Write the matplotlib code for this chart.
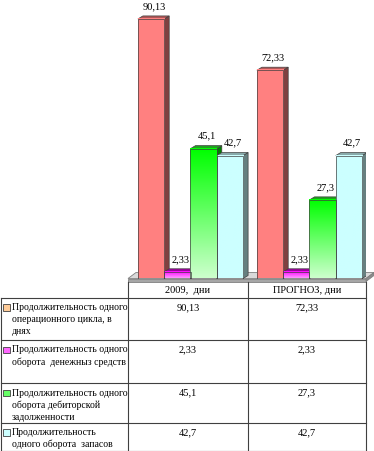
import numpy as np
import matplotlib
matplotlib.use('Agg')
import matplotlib.pyplot as plt
from matplotlib.patches import Polygon, Rectangle
from matplotlib.colors import LinearSegmentedColormap

# ---------------- data ----------------
categories = ['2009,  дни', 'ПРОГНОЗ, дни']
series_labels = [
    ['Продолжительность одного', 'операционного цикла, в', 'днях'],
    ['Продолжительность одного', 'оборота  денежныз средств'],
    ['Продолжительность одного', 'оборота дебиторской', 'задолженности'],
    ['Продолжительность', 'одного оборота  запасов'],
]
cycle_days = [90.13, 72.33]
cash_days = [2.33, 2.33]
receivables_days = [45.1, 27.3]
inventory_days = [42.7, 42.7]
series_values = [cycle_days, cash_days, receivables_days, inventory_days]

# ---------------- style ----------------
W, H, DPI = 374, 451, 100
FONT = 'Liberation Serif'
FS = 7.5
FS_LEFT = 7.0
front_top = ['#FF8080', '#FF00FF', '#00FF00', '#CCFFFF']
front_bot = ['#FF8080', '#FF99FF', '#CCFFCC', '#CCFFFF']
side_col = ['#804040', '#800080', '#008000', '#668080']
top_col = ['#B05858', '#A000A0', '#20A020', '#88AAAA']
legend_col = ['#FFCC99', '#FF66FF', '#66FF66', '#CCFFFF']
edge = '#404040'

fig = plt.figure(figsize=(W / DPI, H / DPI), dpi=DPI)
fig.patch.set_facecolor('white')

# full-figure axes in pixel coordinates for table and floor
tab = fig.add_axes([0, 0, 1, 1])
tab.set_xlim(0, W)
tab.set_ylim(H, 0)
tab.axis('off')

# chart axes
ax_left, ax_right = 128, 366
base_y = 278.5
px_per_unit = 2.88
ymax = base_y / px_per_unit
ax = fig.add_axes([ax_left / W, (H - base_y) / H, (ax_right - ax_left) / W, base_y / H])
ax.set_facecolor('none')
ax.axis('off')
ax.set_xlim(-0.5, len(categories) - 0.5)
ax.set_ylim(0, ymax)

# floor (drawn in pixel axes)
floor_top = Polygon([(ax_left, base_y), (ax_right, base_y), (ax_right + 8, base_y - 6),
                     (ax_left + 8, base_y - 6)], closed=True, facecolor='#D9D9D9',
                    edgecolor='#808080', lw=0.6, zorder=1)
floor_front = Polygon([(ax_left, base_y), (ax_right, base_y), (ax_right, 281.5),
                       (ax_left, 281.5)], closed=True, facecolor='#A6A6A6',
                      edgecolor='#808080', lw=0.6, zorder=1)
floor_side = Polygon([(ax_right, base_y), (ax_right + 8, base_y - 6), (ax_right + 8, base_y - 3),
                      (ax_right, 281.5)], closed=True, facecolor='#8C8C8C',
                     edgecolor='#808080', lw=0.6, zorder=1)
for p in (floor_top, floor_front, floor_side):
    tab.add_patch(p)

# bars with pseudo-3D depth
unit_px = (ax_right - ax_left) / len(categories)
bw = 26.3 / unit_px
shift = 3.0 / unit_px
dxd = 5.0 / unit_px
dyd = 3.0 / px_per_unit
n = len(series_values)
for si, vals in enumerate(series_values):
    cmap = LinearSegmentedColormap.from_list('g%d' % si, [front_bot[si], front_top[si]])
    for ci, v in enumerate(vals):
        x0 = ci + shift + (si - n / 2) * bw
        # side face
        ax.add_patch(Polygon([(x0 + bw, 0), (x0 + bw + dxd, dyd), (x0 + bw + dxd, v + dyd),
                              (x0 + bw, v)], closed=True, facecolor=side_col[si],
                             edgecolor=edge, lw=0.5, zorder=2))
        # top face
        ax.add_patch(Polygon([(x0, v), (x0 + bw, v), (x0 + bw + dxd, v + dyd),
                              (x0 + dxd, v + dyd)], closed=True, facecolor=top_col[si],
                             edgecolor=edge, lw=0.5, zorder=2))
        # front face gradient
        grad = np.linspace(0, 1, 64).reshape(-1, 1)
        ax.imshow(grad, extent=[x0, x0 + bw, 0, v], origin='lower', cmap=cmap,
                  aspect='auto', zorder=3, interpolation='bilinear')
        ax.add_patch(Rectangle((x0, 0), bw, v, facecolor='none', edgecolor=edge,
                               lw=0.5, zorder=4))
        ax.annotate(str(v).replace('.', ','), (x0 + bw / 2 + dxd * 0.6, v), xytext=(0, 9),
                    textcoords='offset points', ha='center', va='center',
                    fontsize=FS, family=FONT, color='black', zorder=5)
ax.set_xlim(-0.5, len(categories) - 0.5)
ax.set_ylim(0, ymax)

# ---------------- table ----------------
col_x = [ax_left, 247.7, 365.7]
header_top, header_bot = 281.5, 297.7
row_tops = [297.7, 340.0, 383.0, 422.7]
row_bot = 450.5
lc = '#404040'
lw = 0.8
for x in col_x:
    tab.plot([x, x], [header_top, row_bot], color=lc, lw=lw, zorder=2)
tab.plot([1, 1], [header_bot, row_bot], color=lc, lw=lw, zorder=2)
for y in row_tops + [row_bot]:
    tab.plot([1, col_x[-1]], [y, y], color=lc, lw=lw, zorder=2)

col_centers = [(col_x[i] + col_x[i + 1]) / 2 for i in range(len(categories))]
for ci, cat in enumerate(categories):
    tab.text(col_centers[ci], (header_top + header_bot) / 2 + 0.5, cat, ha='center',
             va='center', fontsize=FS, family=FONT, color='black')

pitch = 12.0
for si, lines in enumerate(series_labels):
    top = row_tops[si]
    y1 = top + 10.0
    tab.add_patch(Rectangle((3.2, y1 - 3.3), 6.5, 6.5, facecolor=legend_col[si],
                            edgecolor='#404040', lw=0.6, zorder=3))
    for li, line in enumerate(lines):
        tab.text(12, y1 + li * pitch, line, ha='left', va='center', fontsize=FS_LEFT,
                 family=FONT, color='black')
    for ci in range(len(categories)):
        tab.text(col_centers[ci], y1, str(series_values[si][ci]).replace('.', ','),
                 ha='center', va='center', fontsize=FS, family=FONT, color='black')

fig.savefig('out.png', dpi=DPI, facecolor='white')
